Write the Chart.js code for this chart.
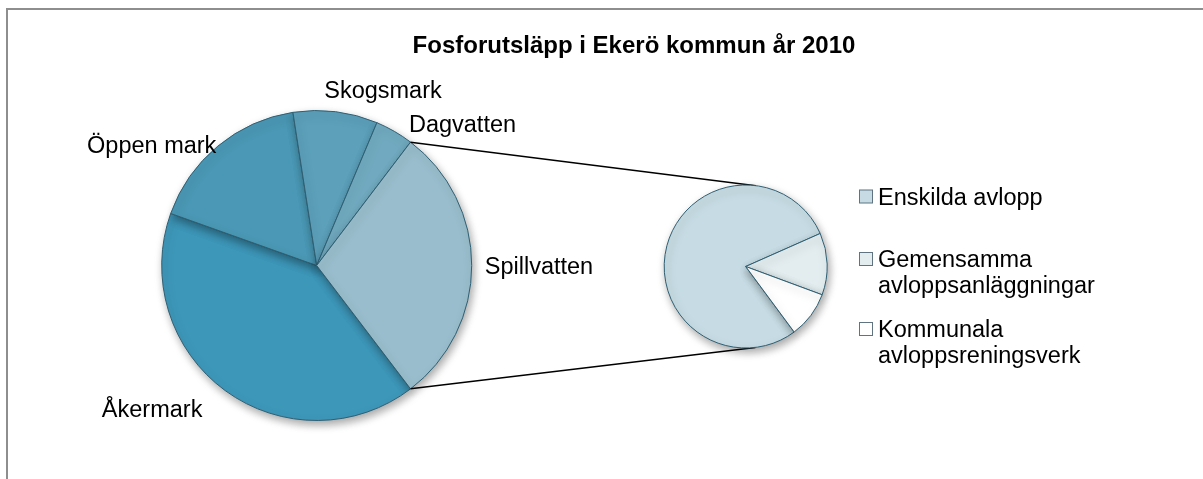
<!DOCTYPE html>
<html lang="sv">
<head>
<meta charset="utf-8">
<title>Fosforutsläpp i Ekerö kommun år 2010</title>
<script src="https://cdn.jsdelivr.net/npm/chart.js@4.4.1/dist/chart.umd.min.js"></script>
<style>
  html, body { margin: 0; padding: 0; background: #fff; overflow: hidden; }
  #wrap  { position: relative; width: 1203px; height: 479px; }
  #frame { position: absolute; left: 6px; top: 8px; width: 1300px; height: 600px;
           border: 2px solid #8e8e8e; box-sizing: border-box; }
  canvas { position: absolute; left: 0; top: 0; }
</style>
</head>
<body>
<div id="wrap">
  <div id="frame"></div>
  <canvas id="mainPie" width="1203" height="479"></canvas>
  <canvas id="subPie" width="1203" height="479"></canvas>
</div>
<script>
// data (percent of total phosphorus load)
const chartTitle = 'Fosforutsläpp i Ekerö kommun år 2010';
const mainLabels = ['Åkermark', 'Öppen mark', 'Skogsmark', 'Dagvatten'];
const mainValues = [40.8, 17.1, 8.8, 4.0];
const otherLabel = 'Spillvatten';
const subLabels  = ['Enskilda avlopp', 'Gemensamma avloppsanläggningar', 'Kommunala avloppsreningsverk'];
const subValues  = [23.0, 3.6, 2.7];

// styling / layout
const FONT       = '"Liberation Sans", Arial, Helvetica, sans-serif';
const mainColors = ['#3d97b9', '#4a98b5', '#5ca0ba', '#71aac0', '#99bdcc'];
const subColors  = ['#c6dbe3', '#e3edf0', '#ffffff'];
const edgeColor  = '#2f5f73';
const mainCenter = { x: 316.7, y: 265.5 }, mainR = 155;
const subCenter  = { x: 745.7, y: 266.5 }, subR = 81.5;
const subRotation = 143.5;
// label placement: angle from top (deg, clockwise), distance in radii
const labelPlace = {
  'Åkermark':   [229.0, 1.407],
  'Öppen mark': [306.2, 1.319],
  'Skogsmark':  [20.7, 1.210],
  'Dagvatten':  [45.85, 1.311],
  'Spillvatten':[89.9, 1.434]
};

const otherValue = subValues.reduce((a, b) => a + b, 0);
const allMain    = [...mainValues, otherValue];
const mainTotal  = allMain.reduce((a, b) => a + b, 0);
const mainRotation = 90 + 180 * otherValue / mainTotal;

function areaPadding(c, half, w, h) {
  return { left: c.x - half, right: w - (c.x + half), top: c.y - half, bottom: h - (c.y + half) };
}

const shadowPlugin = {
  id: 'sliceShadow',
  beforeDatasetsDraw(chart) {
    const ctx = chart.ctx;
    ctx.save();
    ctx.shadowColor = 'rgba(0,0,0,0.35)';
    ctx.shadowBlur = 8;
    ctx.shadowOffsetX = 2;
    ctx.shadowOffsetY = 4;
  },
  afterDatasetsDraw(chart) {
    chart.ctx.restore();
  }
};

const mainText = {
  id: 'mainText',
  afterDraw(chart) {
    const ctx = chart.ctx;
    ctx.save();
    ctx.fillStyle = '#000';
    ctx.textAlign = 'center';
    ctx.textBaseline = 'alphabetic';
    ctx.font = 'bold 24px ' + FONT;
    ctx.fillText(chartTitle, 634, 53);

    ctx.font = '23.5px ' + FONT;
    const arc0 = chart.getDatasetMeta(0).data[0];
    chart.data.labels.forEach(lbl => {
      const p = labelPlace[lbl];
      if (!p) return;
      const a = p[0] * Math.PI / 180;
      const x = arc0.x + p[1] * mainR * Math.sin(a);
      const y = arc0.y - p[1] * mainR * Math.cos(a);
      ctx.fillText(lbl, x, y + 8.4);
    });
    ctx.restore();
  }
};

const mainChart = new Chart(document.getElementById('mainPie'), {
  type: 'pie',
  data: {
    labels: [...mainLabels, otherLabel],
    datasets: [{
      data: allMain,
      backgroundColor: mainColors,
      borderColor: edgeColor,
      borderWidth: 1,
      hoverOffset: 0,
      clip: false
    }]
  },
  options: {
    responsive: false,
    animation: false,
    devicePixelRatio: 1,
    radius: mainR,
    rotation: mainRotation,
    layout: { padding: areaPadding(mainCenter, 185, 1203, 479) },
    plugins: { legend: { display: false }, tooltip: { enabled: false }, title: { display: false } }
  },
  plugins: [shadowPlugin, mainText]
});

// tangent point from an outside point p to circle (c, r); side = +1 upper, -1 lower
function tangentPoint(p, c, r, side) {
  const dx = p.x - c.x, dy = p.y - c.y;
  const d  = Math.hypot(dx, dy);
  const base = Math.atan2(dy, dx);
  const t = base + side * Math.acos(r / d);
  return { x: c.x + r * Math.cos(t), y: c.y + r * Math.sin(t) };
}

const connectors = {
  id: 'connectors',
  beforeDatasetsDraw(chart) {
    const other = mainChart.getDatasetMeta(0).data[mainLabels.length];
    const sub0  = chart.getDatasetMeta(0).data[0];
    const c = { x: sub0.x, y: sub0.y };
    const R = other.outerRadius;
    const pTop = { x: other.x + R * Math.cos(other.startAngle), y: other.y + R * Math.sin(other.startAngle) };
    const pBot = { x: other.x + R * Math.cos(other.endAngle),   y: other.y + R * Math.sin(other.endAngle) };
    const tTop = tangentPoint(pTop, c, sub0.outerRadius, 1);
    const tBot = tangentPoint(pBot, c, sub0.outerRadius, -1);
    const ctx = chart.ctx;
    ctx.save();
    ctx.strokeStyle = '#000';
    ctx.lineWidth = 1.5;
    ctx.beginPath();
    ctx.moveTo(pTop.x, pTop.y); ctx.lineTo(tTop.x, tTop.y);
    ctx.moveTo(pBot.x, pBot.y); ctx.lineTo(tBot.x, tBot.y);
    ctx.stroke();
    ctx.restore();
  }
};

function wrapText(ctx, text, maxW) {
  const words = text.split(' ');
  const lines = [];
  let cur = '';
  words.forEach(w => {
    const test = cur ? cur + ' ' + w : w;
    if (cur && ctx.measureText(test).width > maxW) { lines.push(cur); cur = w; }
    else cur = test;
  });
  if (cur) lines.push(cur);
  return lines;
}

const subLegend = {
  id: 'subLegend',
  afterDraw(chart) {
    const ctx = chart.ctx;
    const baselines = [204.5, 267, 337];
    const lineH = 25.5;
    ctx.save();
    ctx.font = '23.5px ' + FONT;
    ctx.fillStyle = '#000';
    ctx.textAlign = 'left';
    ctx.textBaseline = 'alphabetic';
    chart.data.labels.forEach((lbl, i) => {
      const y0 = baselines[i];
      ctx.fillStyle = subColors[i];
      ctx.fillRect(859.5, y0 - 14.5, 13, 13);
      ctx.strokeStyle = '#5f7480';
      ctx.lineWidth = 1;
      ctx.strokeRect(859.5, y0 - 14.5, 13, 13);
      ctx.fillStyle = '#000';
      wrapText(ctx, lbl, 225).forEach((line, k) => ctx.fillText(line, 878, y0 + k * lineH));
    });
    ctx.restore();
  }
};

new Chart(document.getElementById('subPie'), {
  type: 'pie',
  data: {
    labels: subLabels,
    datasets: [{
      data: subValues,
      backgroundColor: subColors,
      borderColor: edgeColor,
      borderWidth: 1,
      hoverOffset: 0,
      clip: false
    }]
  },
  options: {
    responsive: false,
    animation: false,
    devicePixelRatio: 1,
    radius: subR,
    rotation: subRotation,
    layout: { padding: areaPadding(subCenter, 110, 1203, 479) },
    plugins: { legend: { display: false }, tooltip: { enabled: false }, title: { display: false } }
  },
  plugins: [connectors, shadowPlugin, subLegend]
});
</script>
</body>
</html>
